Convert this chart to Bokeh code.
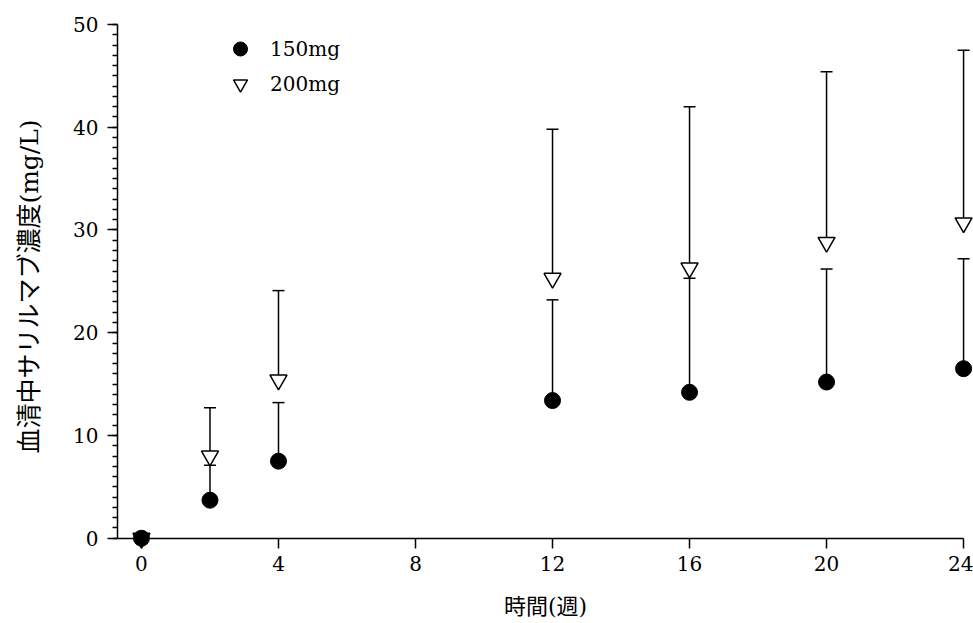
from bokeh.plotting import figure
from bokeh.models import (Range1d, FixedTicker, SingleIntervalTicker, Legend, LegendItem,
                          ColumnDataSource, LinearAxis)
from bokeh.embed import file_html
from bokeh.resources import INLINE

# Serum sarilumab concentration (mg/L) by week
weeks = [0, 2, 4, 12, 16, 20, 24]
mean_150 = [0.0, 3.7, 7.5, 13.4, 14.2, 15.2, 16.5]
upper_150 = [0.0, 7.1, 13.2, 23.2, 25.3, 26.2, 27.2]
mean_200 = [0.0, 8.0, 15.4, 25.3, 26.3, 28.8, 30.7]
upper_200 = [0.0, 12.7, 24.1, 39.8, 42.0, 45.4, 47.5]
x_ticks = [0, 4, 8, 12, 16, 20, 24]

SERIF = "DejaVu Serif"
JP = "DejaVu Serif, Noto Sans CJK JP"

src150 = ColumnDataSource(dict(x=weeks, y=mean_150, hi=upper_150))
src200 = ColumnDataSource(dict(x=weeks, y=mean_200, hi=upper_200))

p = figure(width=973, height=623, output_backend="svg", toolbar_location=None,
           x_range=Range1d(-0.7, 24.29), y_range=Range1d(-1, 50),
           min_border_left=117, min_border_right=0, min_border_top=24, min_border_bottom=75)
p.frame_width = 856
p.frame_height = 524
p.outline_line_color = None
p.grid.visible = False
p.background_fill_color = "white"

# upward error bars: stem + cap
for src in (src200, src150):
    p.segment(x0="x", y0="y", x1="x", y1="hi", source=src, line_color="black", line_width=1.5)
    p.scatter(x="x", y="hi", source=src, marker="dash", size=12, line_color="black", line_width=1.5)

r200 = p.scatter(x="x", y="y", source=src200, marker="inverted_triangle", size=17,
                 fill_color="white", line_color="black", line_width=1.5)
r150 = p.scatter(x="x", y="y", source=src150, marker="circle", size=16,
                 fill_color="black", line_color="black")

# bottom axis carries ticks (reaching up to y = 0) and labels
xa = p.xaxis[0]
xa.ticker = FixedTicker(ticks=x_ticks)
xa.axis_line_color = None
xa.minor_tick_line_color = None
xa.major_tick_in = 10
xa.major_tick_out = 0
xa.axis_label = "時間(週)"

# the horizontal axis line itself runs along y = 0
xline = LinearAxis(fixed_location=0, bounds=(-0.7, 24), ticker=FixedTicker(ticks=[]),
                   axis_line_width=1.5, axis_line_color="black",
                   major_tick_line_color=None, minor_tick_line_color=None)
p.add_layout(xline, "below")

ya = p.yaxis[0]
ya.bounds = (0, 50)
ya.ticker = SingleIntervalTicker(interval=10, num_minor_ticks=10)
ya.axis_label = "血清中サリルマブ濃度(mg/L)"
ya.axis_line_width = 1.5
ya.axis_line_color = "black"
ya.major_tick_out = 10
ya.major_tick_in = 0
ya.minor_tick_line_width = 1.5
ya.minor_tick_out = 5
ya.minor_tick_in = 0

for ax in (xa, ya):
    ax.major_tick_line_width = 1.5
    ax.major_tick_line_color = "black"
    ax.major_label_text_font = SERIF
    ax.major_label_text_font_size = "20px"
    ax.major_label_text_color = "black"
    ax.axis_label_text_font = JP
    ax.axis_label_text_font_style = "normal"
    ax.axis_label_text_color = "black"

xa.major_label_standoff = 7
ya.major_label_standoff = 9
xa.axis_label_text_font_size = "22px"
xa.axis_label_standoff = 20
ya.axis_label_text_font_size = "25px"
ya.axis_label_standoff = 26

legend = Legend(items=[LegendItem(label="150mg", renderers=[r150]),
                       LegendItem(label="200mg", renderers=[r200])],
                location=(104, 447), orientation="vertical",
                border_line_color=None, background_fill_alpha=0,
                padding=0, spacing=0, margin=0,
                glyph_width=38, glyph_height=35, label_height=35,
                label_standoff=11, label_text_font=SERIF, label_text_font_size="20px",
                label_text_color="black")
p.add_layout(legend)

open("out.html", "w").write(file_html(p, INLINE))
